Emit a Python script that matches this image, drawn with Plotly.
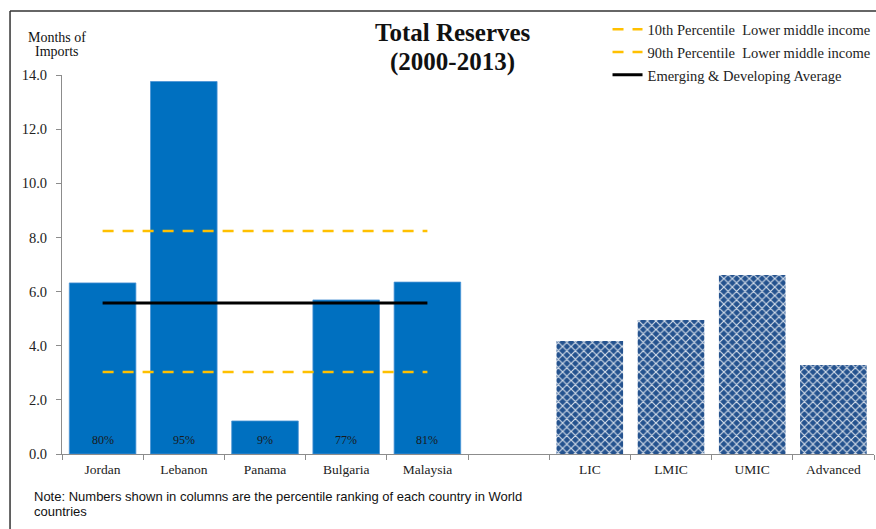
import plotly.graph_objects as go

# Reserves in months of imports, average 2000-2013
countries = ["Jordan", "Lebanon", "Panama", "Bulgaria", "Malaysia"]
country_values = [6.32, 13.76, 1.22, 5.69, 6.35]
country_pct = ["80%", "95%", "9%", "77%", "81%"]

groups = ["LIC", "LMIC", "UMIC", "Advanced"]
group_values = [4.17, 4.95, 6.61, 3.29]

spacer = [" "]
categories = countries + spacer + groups

p10_lmic = 3.03
p90_lmic = 8.24
emdev_avg = 5.58

# height inside the bars at which the percentile rank is printed
pct_label_y = 0.52

y_ticks = [0, 2, 4, 6, 8, 10, 12, 14]
y_tick_labels = ["0.0", "2.0", "4.0", "6.0", "8.0", "10.0", "12.0", "14.0"]

SERIF = "Liberation Serif"

fig = go.Figure()

fig.add_trace(go.Bar(
    x=countries, y=country_values,
    marker=dict(color="#0070C0", line=dict(color="#4A93D4", width=0.8)),
    showlegend=False, hoverinfo="x+y",
))

fig.add_trace(go.Bar(
    x=groups, y=group_values,
    marker=dict(
        color="#24528E",
        pattern=dict(shape="x", fgcolor="#D5DEEA", bgcolor="#24528E",
                     size=6, solidity=0.35, fillmode="replace"),
        line=dict(width=0),
    ),
    showlegend=False, hoverinfo="x+y",
))

fig.add_trace(go.Scatter(
    x=countries, y=[p10_lmic] * len(countries), mode="lines",
    name="10th Percentile  Lower middle income", legendgroup="a",
    line=dict(color="#FFC000", width=2.5, dash="11px,9px"),
))
fig.add_trace(go.Scatter(
    x=countries, y=[p90_lmic] * len(countries), mode="lines",
    name="90th Percentile  Lower middle income", legendgroup="b",
    line=dict(color="#FFC000", width=2.5, dash="11px,9px"),
))
fig.add_trace(go.Scatter(
    x=countries, y=[emdev_avg] * len(countries), mode="lines",
    name="Emerging & Developing Average", legendgroup="c",
    line=dict(color="#000000", width=3),
))

pct_annotations = [
    dict(x=c, y=pct_label_y, xref="x", yref="y", text=p, showarrow=False,
         font=dict(family=SERIF, size=12, color="#1a1a1a"))
    for c, p in zip(countries, country_pct)
]


def paper_text(text, x, y, size, bold=False, family=SERIF, xanchor="center"):
    return dict(text=f"<b>{text}</b>" if bold else text,
                xref="paper", yref="paper", x=x, y=y,
                xanchor=xanchor, yanchor="middle", showarrow=False,
                font=dict(family=family, size=size, color="#111111"))


fig.update_layout(
    width=876, height=529,
    margin=dict(l=62, r=1, t=75, b=75),
    paper_bgcolor="white", plot_bgcolor="white",
    bargap=0.18,
    font=dict(family=SERIF, size=13, color="#222222"),
    legend=dict(
        x=0.671, y=1.163, xanchor="left", yanchor="top",
        bgcolor="rgba(0,0,0,0)", tracegroupgap=1,
        font=dict(family=SERIF, size=14.5, color="#222222"),
        itemwidth=30,
    ),
    xaxis=dict(
        type="category", categoryorder="array", categoryarray=categories,
        range=[-0.5, len(categories) - 0.5],
        showline=True, linecolor="#8c8c8c", linewidth=1,
        ticks="outside", tickson="boundaries", ticklen=5, tickcolor="#8c8c8c",
        tickfont=dict(family=SERIF, size=13.5, color="#222222"),
        ticklabelstandoff=3,
        showgrid=False, zeroline=False,
    ),
    yaxis=dict(
        range=[0, 14], tickvals=y_ticks, ticktext=y_tick_labels,
        showline=True, linecolor="#8c8c8c", linewidth=1,
        ticks="outside", ticklen=5, tickcolor="#8c8c8c",
        tickfont=dict(family=SERIF, size=14.5, color="#222222"),
        ticklabelstandoff=6,
        showgrid=False, zeroline=False,
    ),
    annotations=pct_annotations + [
        paper_text("Total Reserves", 0.481, 1.111, 25, bold=True),
        paper_text("(2000-2013)", 0.481, 1.034, 25, bold=True),
        paper_text("Months of", -0.006, 1.100, 14),
        paper_text("Imports", -0.006, 1.062, 14),
        paper_text("Note: Numbers shown in columns are the percentile ranking of each country in World",
                   -0.0365, -0.111, 13, family="Liberation Sans", xanchor="left"),
        paper_text("countries", -0.0365, -0.153, 13, family="Liberation Sans", xanchor="left"),
    ],
    shapes=[
        dict(type="line", xref="paper", yref="paper", x0=-0.064, x1=1.01,
             y0=1.169, y1=1.169, line=dict(color="#333333", width=1.5)),
        dict(type="line", xref="paper", yref="paper", x0=-0.064, x1=-0.064,
             y0=1.169, y1=-0.21, line=dict(color="#333333", width=1.5)),
    ],
)

fig.write_html("out.html")
